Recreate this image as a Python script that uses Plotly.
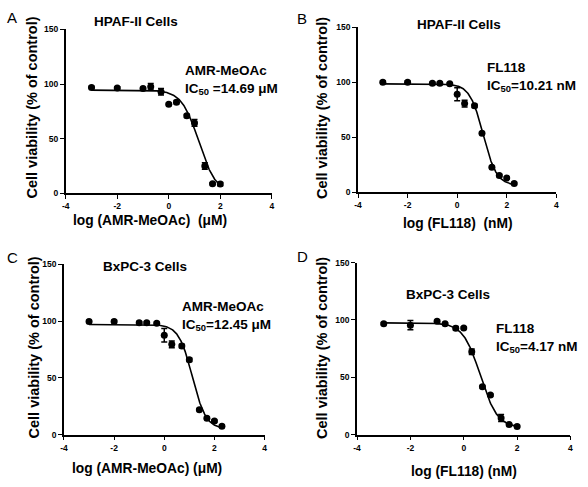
import plotly.graph_objects as go
import numpy as np

W, H = 588, 487

# ---------------- data ----------------
log_conc_A = [-3, -2, -1, -0.7, -0.3, 0, 0.3, 0.7, 1, 1.4, 1.7, 2]
viab_A     = [97, 96.5, 96, 97.5, 93, 81.5, 83.5, 71, 64.5, 25, 8.8, 8.5]
err_A      = [1, 1, 1, 3, 3, 1, 1.5, 1.5, 3, 3, 1, 1.5]

log_conc_B = [-3, -2, -1, -0.7, -0.3, 0, 0.3, 0.7, 1, 1.4, 1.7, 2, 2.3]
viab_B     = [100, 100, 99, 99, 98.5, 89, 80.5, 78.5, 53.5, 22.5, 15, 12.8, 7.8]
err_B      = [1, 1, 1, 1, 1, 6, 3, 1.5, 1, 1, 1, 1, 1]

log_conc_C = [-3, -2, -1, -0.7, -0.3, 0, 0.3, 0.7, 1, 1.4, 1.7, 2, 2.3]
viab_C     = [99.7, 99.7, 98.6, 98.6, 98, 87.5, 79.5, 78, 66, 22, 14.5, 12, 7.5]
err_C      = [1, 1, 1, 1, 1, 6, 3, 1.5, 1.5, 1, 1, 1, 1]

log_conc_D = [-3, -2, -1, -0.7, -0.3, 0, 0.3, 0.7, 1, 1.4, 1.7, 2]
viab_D     = [96.8, 95.5, 98.8, 96.8, 92.8, 93.1, 72.3, 41.8, 34.5, 14.5, 8.8, 7.2]
err_D      = [1, 4, 1, 1, 1.5, 1, 2.5, 1, 1, 3, 1, 1]

# fitted 4-parameter logistic curves: top, bottom, logIC50, hill, x range
fit_A = dict(top=94.5, bottom=0, logic50=1.167, hill=1.3, xmin=-3, xmax=2)
fit_B = dict(top=98.5, bottom=6, logic50=1.05, hill=1.6, xmin=-3, xmax=2.3)
fit_C = dict(top=97, bottom=5, logic50=1.12, hill=1.6, xmin=-3, xmax=2.3)
fit_D = dict(top=97.5, bottom=6, logic50=0.62, hill=1.35, xmin=-3, xmax=2)

panel_letters = ["A", "B", "C", "D"]
cell_titles = ["HPAF-II Cells", "HPAF-II Cells", "BxPC-3 Cells", "BxPC-3 Cells"]
drug_notes = ["AMR-MeOAc<br>IC<sub>50</sub> =14.69 μM",
              "FL118<br>IC<sub>50</sub>=10.21 nM",
              "AMR-MeOAc<br>IC<sub>50</sub>=12.45 μM",
              "FL118<br>IC<sub>50</sub>=4.17 nM"]
x_titles = ["log (AMR-MeOAc)  (μM)", "log (FL118)  (nM)",
            "log (AMR-MeOAc) (μM)", "log (FL118) (nM)"]
y_title = "Cell viability (% of control)"
x_ticks = [-4, -2, 0, 2, 4]
y_ticks = [0, 50, 100, 150]

# ---------------- layout helpers (pixel -> paper) ----------------
def px(x):
    return x / W

def py(y):
    return 1 - y / H

# plot areas in pixels: (left, right, bottom(y=0), top(y=150))
areas = [
    (62.5, 271, 192.3, 25),
    (358.3, 559, 191, 22.7),
    (60.7, 263.7, 438.7, 264.7),
    (357.3, 573.3, 438.7, 263),
]

FONT = "Liberation Sans, Arial, sans-serif"
fig = go.Figure()

datasets = [
    (log_conc_A, viab_A, err_A, fit_A),
    (log_conc_B, viab_B, err_B, fit_B),
    (log_conc_C, viab_C, err_C, fit_C),
    (log_conc_D, viab_D, err_D, fit_D),
]

layout_axes = {}
for i, ((xs, ys, es, fit), (l, r, b, t)) in enumerate(zip(datasets, areas)):
    n = i + 1
    xa = "x" if n == 1 else f"x{n}"
    ya = "y" if n == 1 else f"y{n}"
    xc = np.linspace(fit["xmin"], fit["xmax"], 300)
    yc = fit["bottom"] + (fit["top"] - fit["bottom"]) / (1 + 10 ** (fit["hill"] * (xc - fit["logic50"])))
    fig.add_trace(go.Scatter(x=xc, y=yc, mode="lines", line=dict(color="black", width=1.6),
                             xaxis=xa, yaxis=ya, showlegend=False, hoverinfo="skip"))
    fig.add_trace(go.Scatter(x=xs, y=ys, mode="markers",
                             marker=dict(color="black", size=7),
                             error_y=dict(type="data", array=es, color="black", thickness=1.5, width=3),
                             xaxis=xa, yaxis=ya, showlegend=False))
    axcommon = dict(showgrid=False, zeroline=False, showline=True, linecolor="black", linewidth=1.6,
                    ticks="outside", ticklen=4, tickwidth=1.4, tickcolor="black",
                    tickfont=dict(family=FONT, size=8.5, color="black"))
    layout_axes["xaxis" if n == 1 else f"xaxis{n}"] = dict(
        axcommon, domain=[px(l), px(r)], range=[-4, 4], tickvals=x_ticks,
        anchor=ya, ticktext=[f"<b>{v}</b>" for v in x_ticks])
    layout_axes["yaxis" if n == 1 else f"yaxis{n}"] = dict(
        axcommon, domain=[py(b), py(t)], range=[0, 150], tickvals=y_ticks,
        ticktext=[f"<b>{v}</b>" for v in y_ticks], anchor=xa)

annotations = []
letter_pos = [(1, 13), (294, 14), (1, 258), (294, 257)]
title_pos = [(134, 17), (460, 20), (143, 267), (449, 296)]
note_pos = [(181, 77), (487, 74), (178, 318), (496, 340)]
xtitle_pos = [(148, 220), (459, 223), (145, 473), (466, 476)]
ytitle_pos = [(28, 105), (322, 105), (30, 350), (322, 350)]

for i in range(4):
    annotations.append(dict(text=panel_letters[i], x=px(letter_pos[i][0]), y=py(letter_pos[i][1]),
                            xref="paper", yref="paper", xanchor="left", yanchor="middle", showarrow=False,
                            font=dict(family=FONT, size=15, color="black")))
    annotations.append(dict(text=f"<b>{cell_titles[i]}</b>", x=px(title_pos[i][0]), y=py(title_pos[i][1]),
                            xref="paper", yref="paper", xanchor="center", yanchor="middle", showarrow=False,
                            font=dict(family=FONT, size=13.5, color="black")))
    annotations.append(dict(text=f"<b>{drug_notes[i]}</b>", x=px(note_pos[i][0]), y=py(note_pos[i][1]),
                            xref="paper", yref="paper", xanchor="left", yanchor="middle", align="left",
                            showarrow=False, font=dict(family=FONT, size=13.5, color="black")))
    annotations.append(dict(text=f"<b>{x_titles[i]}</b>", x=px(xtitle_pos[i][0]), y=py(xtitle_pos[i][1]),
                            xref="paper", yref="paper", xanchor="center", yanchor="middle", showarrow=False,
                            font=dict(family=FONT, size=13.8, color="black")))
    annotations.append(dict(text=f"<b>{y_title}</b>", x=px(ytitle_pos[i][0]), y=py(ytitle_pos[i][1]),
                            xref="paper", yref="paper", xanchor="center", yanchor="middle", showarrow=False,
                            textangle=-90, font=dict(family=FONT, size=14.5, color="black")))

fig.update_layout(width=W, height=H, margin=dict(l=0, r=0, t=0, b=0),
                  paper_bgcolor="white", plot_bgcolor="white",
                  annotations=annotations, **layout_axes)

fig.write_html("out.html", config={"displayModeBar": False},
               post_script="document.body.style.margin='0';document.body.style.padding='0';")
